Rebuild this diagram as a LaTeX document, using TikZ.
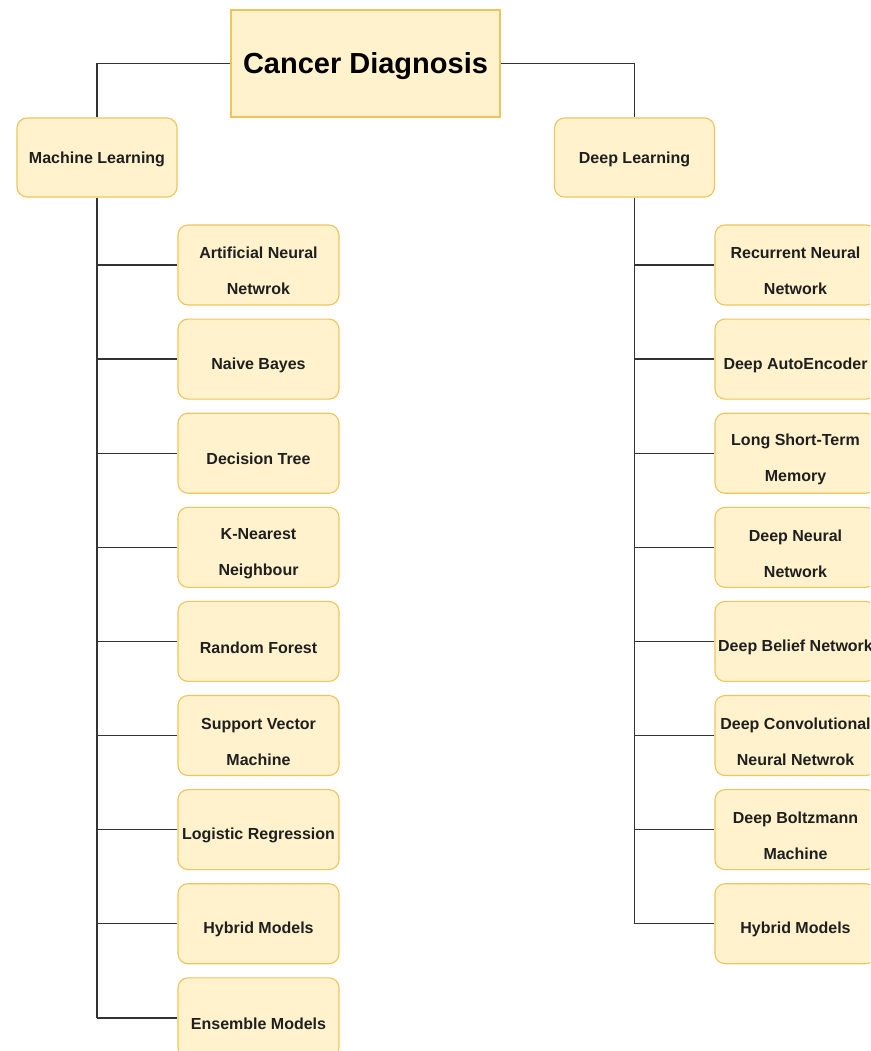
\documentclass[tikz,border=0pt]{standalone}
\usepackage{fontspec}
\setmainfont{Liberation Sans}
\begin{document}
\begin{tikzpicture}[x=1pt,y=-1pt,
  box/.style={draw=boxline, fill=boxfill, line width=1.1pt, inner sep=0pt},
  rootbox/.style={box, minimum width=269pt, minimum height=107pt},
  catbox/.style={box, rounded corners=10pt, minimum width=160pt, minimum height=79pt},
  leafbox/.style={box, rounded corners=10pt, minimum width=161pt, minimum height=80pt},
  boxtext/.style={font=\fontsize{16}{36}\selectfont\bfseries, align=center, inner sep=0pt, text=black!88},
  link/.style={draw=linkgray, line width=1.4pt}]
\definecolor{boxfill}{HTML}{FFF2CC}
\definecolor{boxline}{HTML}{F0C45C}
\definecolor{linkgray}{HTML}{333333}
\clip (0,0) rectangle (870,1051);
\fill[white] (0,0) rectangle (870,1051);

% root and the two branches
\node[rootbox] (root) at (365.5,63.5) {};
\node[font=\fontsize{29}{34}\selectfont\bfseries, inner sep=0pt] (root-t) at ([yshift=-3]root.center) {Cancer Diagnosis};
\node[catbox] (ml) at (97,157.5) {};
\node[boxtext] (ml-t) at ([yshift=-2]ml.center) {Machine Learning};
\node[catbox] (dl) at (634.5,157.5) {};
\node[boxtext] (dl-t) at ([yshift=-2]dl.center) {Deep Learning};

\draw[link] (root.west) -| (ml.north);
\draw[link] (root.east) -| (dl.north);

% machine learning methods
\foreach \name/\txt [count=\i from 0] in {
  ann/{Artificial Neural\\Netwrok},
  nb/{Naive Bayes},
  dt/{Decision Tree},
  knn/{K-Nearest\\Neighbour},
  rf/{Random Forest},
  svm/{Support Vector\\Machine},
  lr/{Logistic Regression},
  hml/{Hybrid Models},
  ens/{Ensemble Models}}{
  \node[leafbox] (\name) at (258.5,{265+94.1*\i}) {};
  \node[boxtext] (\name-t) at ([yshift=-6]\name.center) {\txt};
  \draw[link] (ml.south |- \name.west) -- (\name.west);
}
\draw[link] (ml.south) -- (ml.south |- ens.west);

% deep learning methods
\foreach \name/\txt [count=\i from 0] in {
  rnn/{Recurrent Neural\\Network},
  dae/{Deep AutoEncoder},
  lstm/{Long Short-Term\\Memory},
  dnn/{Deep Neural\\Network},
  dbn/{Deep Belief Network},
  dcnn/{Deep Convolutional\\Neural Netwrok},
  dbm/{Deep Boltzmann\\Machine},
  hdl/{Hybrid Models}}{
  \node[leafbox] (\name) at (795.5,{265+94.1*\i}) {};
  \node[boxtext] (\name-t) at ([yshift=-6]\name.center) {\txt};
  \draw[link] (dl.south |- \name.west) -- (\name.west);
}
\draw[link] (dl.south) -- (dl.south |- hdl.west);
\end{tikzpicture}
\end{document}
